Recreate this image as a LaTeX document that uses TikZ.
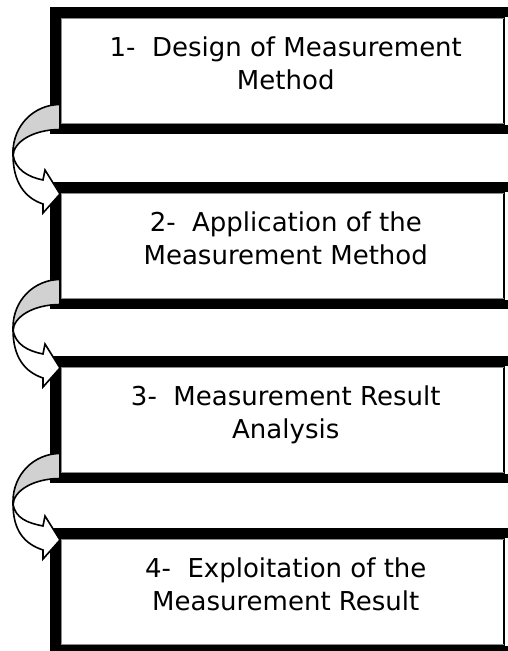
\documentclass[tikz,border=0pt]{standalone}
\usepackage{fontspec}
\newfontfamily\boxfont{DejaVu Sans}
\usetikzlibrary{calc}

\begin{document}
\begin{tikzpicture}[x=1pt,y=-1pt,
  stepbox/.style={draw,line width=1.5pt,fill=white,anchor=north west,inner sep=0pt,minimum width=443pt,minimum height=106pt},
  steptext/.style={align=center,text depth=0pt,font=\boxfont\fontsize{26}{33}\selectfont},
  backside/.style={draw,line width=1.6pt,fill=black!18},
  frontside/.style={draw,line width=1.6pt,fill=white}]
\useasboundingbox (0,0) rectangle (508,651);
\foreach \k/\ytop in {1/7,2/182,3/356,4/528}
{   \node[stepbox] (b\k) at (60,\ytop+10) {};
    \fill ($(b\k.north west)+(-10,-10)$) rectangle ($(b\k.north east)+(4,0)$);
    \fill ($(b\k.north west)+(-10,-10)$) rectangle ($(b\k.south west)+(0,9)$);
    \fill ($(b\k.south west)+(-10,0)$) rectangle ($(b\k.south east)+(4,9)$);
    \draw[black!45,line width=1pt] ($(b\k.north east)+(-1,1)$) -- ($(b\k.north west)+(1,1)$)
        -- ($(b\k.south west)+(1,-1)$) -- ($(b\k.south east)+(-1,-1)$);
}
\node[steptext] (t1) at ([xshift=3.5pt,yshift=8pt]b1.center) {1-\ \ Design of Measurement\\Method};
\node[steptext] (t2) at ([xshift=3.5pt,yshift=8pt]b2.center) {2-\ \ Application of the\\Measurement Method};
\node[steptext] (t3) at ([xshift=3.5pt,yshift=8pt]b3.center) {3-\ \ Measurement Result\\Analysis};
\node[steptext] (t4) at ([xshift=3.5pt,yshift=8pt]b4.center) {4-\ \ Exploitation of the\\Measurement Result};
\foreach \src/\dst in {b1/b2,b2/b3,b3/b4}
{   \path (\src.south west) coordinate (s) (\dst.north west) coordinate (e);
    \filldraw[backside] ($(s)+(0,-20)$) .. controls ($(s)+(-26,-20)$) and ($(s)+(-47,1)$) .. ($(s)+(-47,28)$)
        -- ($(s)+(-47,32)$) .. controls ($(s)+(-47,17)$) and ($(s)+(-26,5)$) .. ($(s)+(0,5)$) -- cycle;
    \filldraw[frontside] ($(s)+(-47,30)$) .. controls ($(s)+(-47,58)$) and ($(e)+(-35,6)$) .. ($(e)+(-17,12)$)
        -- ($(e)+(-17,21)$) -- ($(e)+(0,2)$) -- ($(e)+(-15,-22)$) -- ($(e)+(-17,-12)$)
        .. controls ($(e)+(-32,-15)$) and ($(s)+(-45,45)$) .. ($(s)+(-47,30)$) -- cycle;
}
\end{tikzpicture}
\end{document}
